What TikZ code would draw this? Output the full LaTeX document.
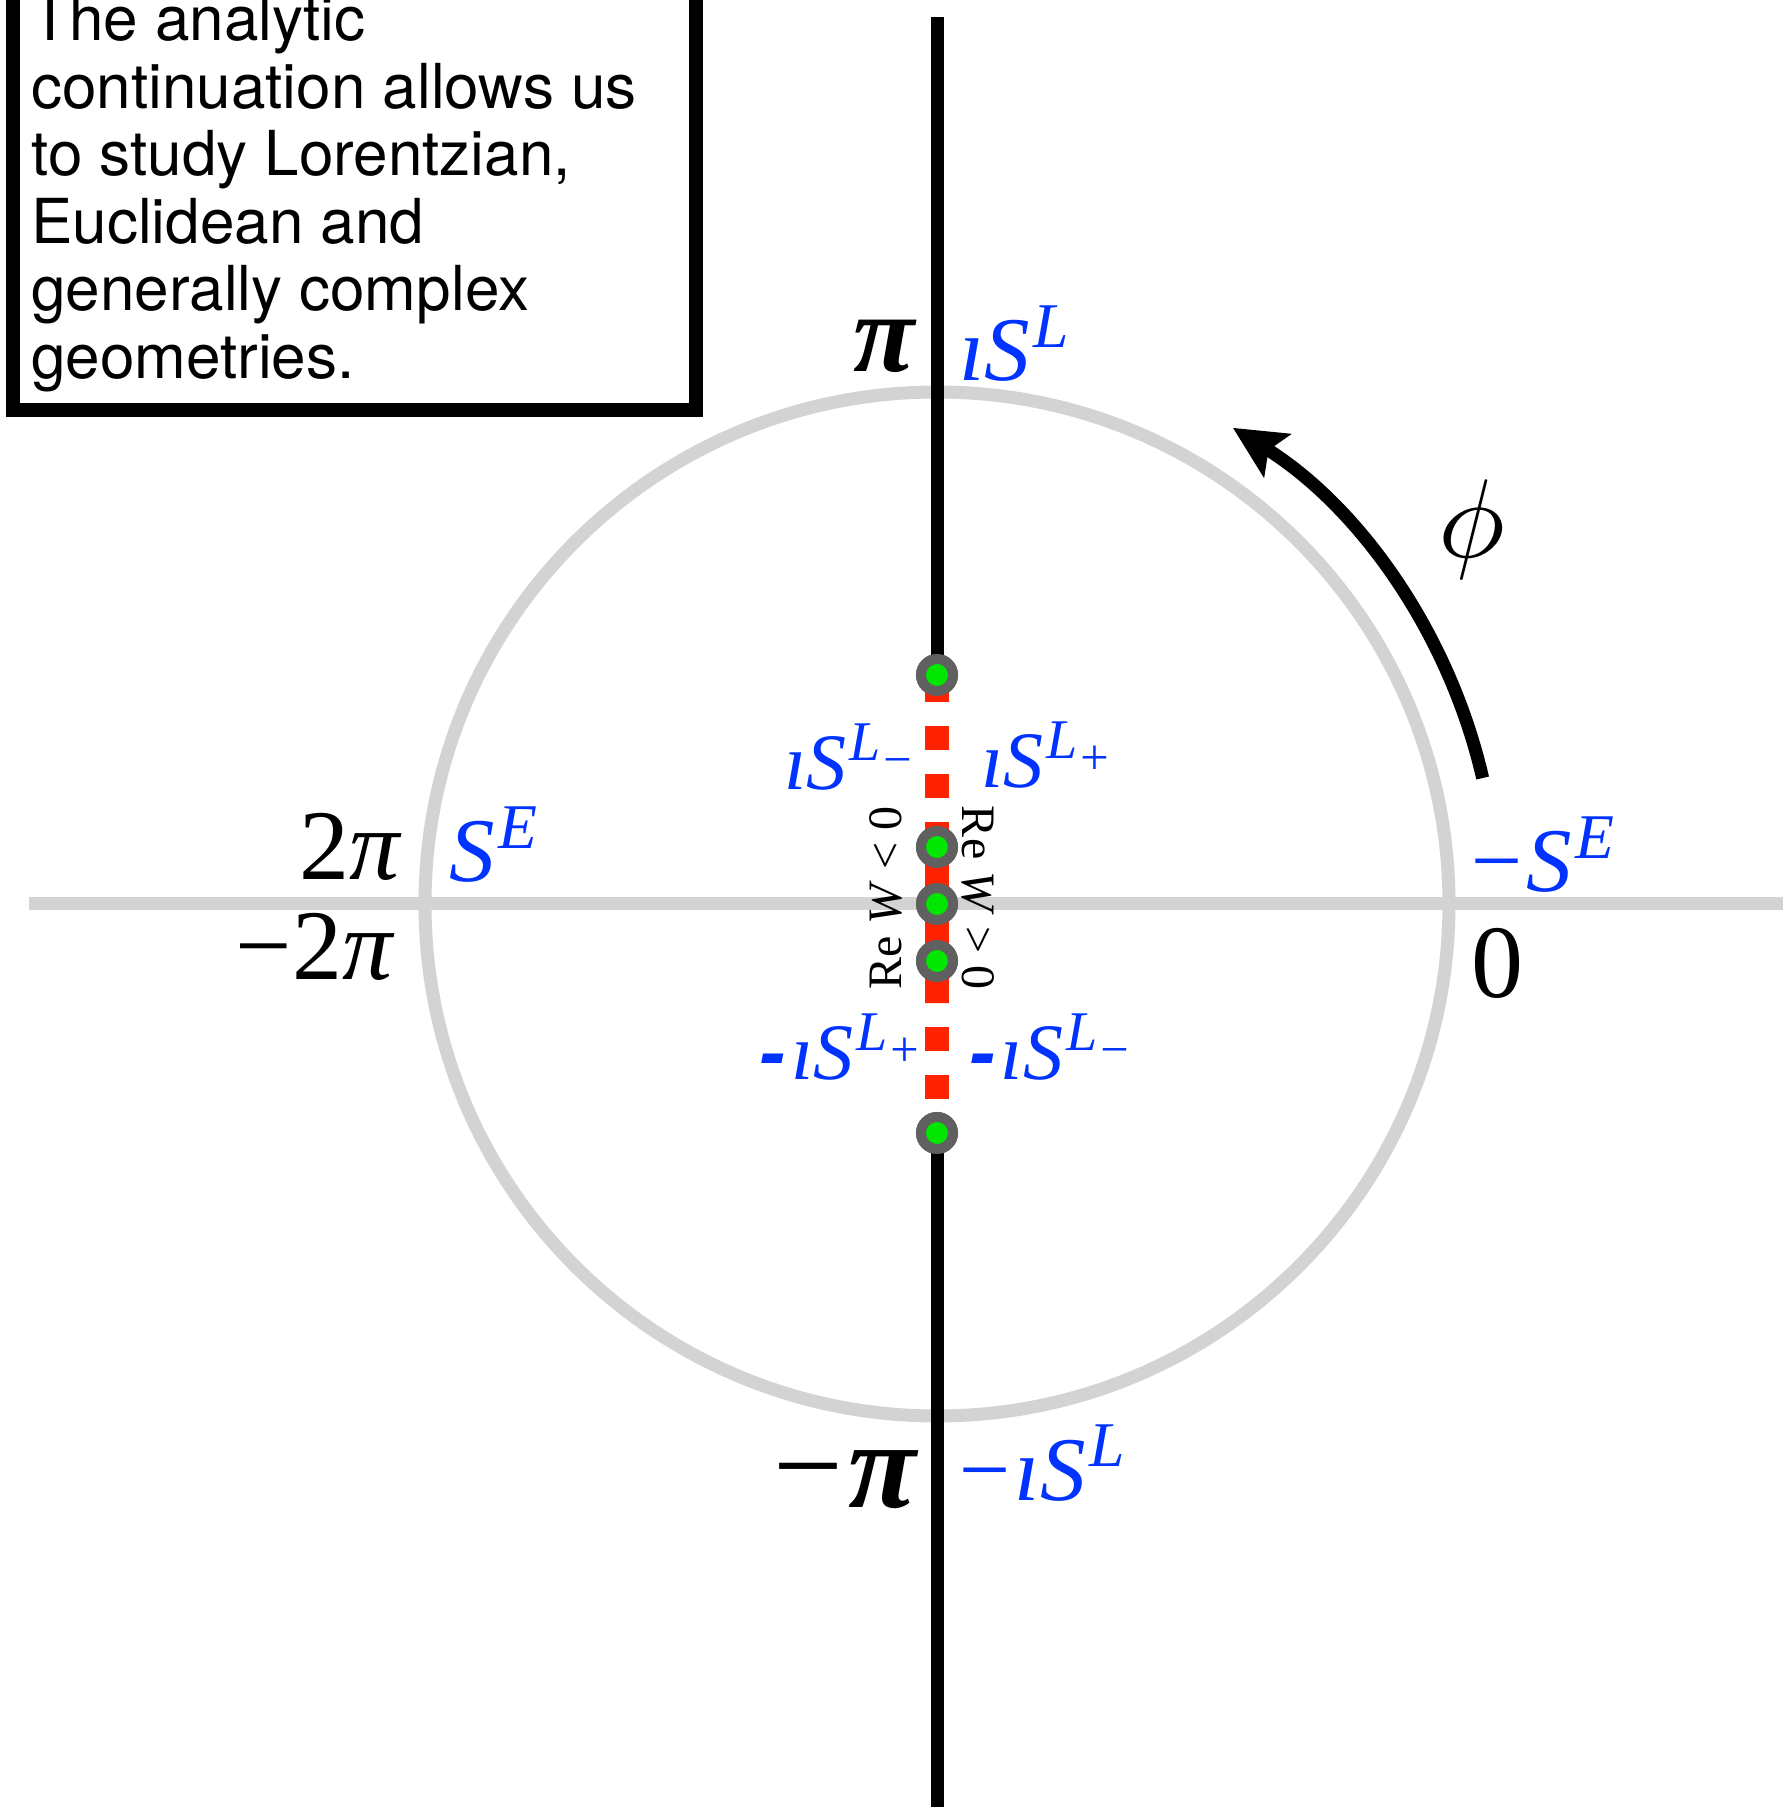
\documentclass[tikz,border=0pt]{standalone}
\usepackage{fontspec}
\usepackage{graphicx}
\newfontfamily\tms{Liberation Serif}
\newfontfamily\arl{Liberation Sans}
\newfontfamily\hvt{TeX Gyre Heros}
\usetikzlibrary{arrows.meta, positioning}

\definecolor{sblue}{RGB}{0,51,255}
\definecolor{cutred}{RGB}{255,34,0}
\definecolor{ptgreen}{RGB}{0,230,0}
\definecolor{ptgray}{RGB}{96,96,96}
\definecolor{axgray}{RGB}{211,211,211}

% superscript, subscript and bold dash used in the labels
\newcommand{\upx}[1]{\kern0.04em\raisebox{0.37em}{\scalebox{0.7}{#1}}}
\newcommand{\dnx}[1]{\raisebox{-0.28em}{\scalebox{0.9}{#1}}}
\newcommand{\dsh}{{\arl\bfseries -}\kern0.06em}

\tikzset{
    axisline/.style={line width=6.5pt, axgray},
    cutline/.style={line width=6.5pt, black},
    redcut/.style={line width=12pt, cutred},
    ptdot/.style={circle, fill=ptgreen, draw=ptgray, line width=5pt, minimum size=16pt, inner sep=0pt},
    blu/.style={text=sblue, inner sep=0pt, font=\tms\itshape\fontsize{#1}{#1}\selectfont},
    blk/.style={text=black, inner sep=0pt, font=\tms\itshape\fontsize{#1}{#1}\selectfont},
}

\begin{document}
\begin{tikzpicture}[x=0.5pt, y=0.5pt, >=Stealth]
    \useasboundingbox (-937,-903) rectangle (846,904);

    % Trục thực và vòng tròn
    \coordinate (xl) at (-908,0);
    \coordinate (xr) at (846,0);
    \draw[axisline] (xl) -- (xr);
    \draw[axisline] (0,0) circle (512);

    % Các điểm nhánh trên trục ảo
    \node[ptdot] (p2) at (0,229) {};
    \node[ptdot] (p1) at (0,57) {};
    \node[ptdot] (p0) at (0,0) {};
    \node[ptdot] (m1) at (0,-57) {};
    \node[ptdot] (m2) at (0,-229) {};

    % Trục ảo (đen) và đường cắt (đỏ)
    \coordinate (yt) at (0,887);
    \coordinate (yb) at (0,-903);
    \coordinate (cu) at (0,82);
    \coordinate (cd) at (0,-99);
    \draw[cutline] (yt) -- (p2.center);
    \draw[cutline] (m2.center) -- (yb);
    \draw[redcut, dash pattern=on 12pt off 12pt, dash phase=22.5pt] (p2.center) -- (cu);
    \draw[redcut] (cu) -- (cd);
    \draw[redcut, dash pattern=on 12pt off 12pt, dash phase=7pt] (m2.center) -- (cd);

    % vẽ lại các điểm lên trên
    \foreach \p in {p2,p1,p0,m1,m2}
        \node[ptdot] at (\p) {};

    % Nhãn góc (đen) và tác dụng (xanh)
    \node[blk=56pt, anchor=base east, font=\tms\bfseries\itshape\fontsize{56pt}{56pt}\selectfont] (pi) at (-22,532) {π};
    \node[blu=45.5pt, anchor=base west] (iSL) at (22,523) {ıS\upx{L}};
    \node[blk=50pt, anchor=base east, font=\tms\fontsize{50pt}{50pt}\selectfont] (twopi) at (-535,24) {2\textit{π}};
    \node[blu=45.5pt, anchor=base west] (SE) at (-488,22) {S\upx{E}};
    \node[blk=50pt, anchor=base east, font=\tms\fontsize{50pt}{50pt}\selectfont] (mtwopi) at (-542,-76) {−2\textit{π}};
    \node[blu=45.5pt, anchor=base west] (mSE) at (528,12) {−S\upx{E}};
    \node[blk=52pt, anchor=base west, font=\tms\fontsize{52pt}{52pt}\selectfont] (zero) at (534,-94) {0};
    \node[blk=62pt, anchor=base east, font=\tms\bfseries\itshape\fontsize{62pt}{62pt}\selectfont] (mpi) at (-20,-603) {{\mdseries −}π};
    \node[blu=45.5pt, anchor=base west] (miSL) at (16,-596) {−ıS\upx{L}};

    % Nhãn cạnh đường cắt
    \node[blu=40pt, anchor=base east] (iSLm) at (-22,114) {ıS\upx{L\dnx{−}}};
    \node[blu=40pt, anchor=base west] (iSLp) at (44,116) {ıS\upx{L\dnx{+}}};
    \node[blu=40pt, anchor=base east] (miSLp) at (-15,-176) {\dsh ıS\upx{L\dnx{+}}};
    \node[blu=40pt, anchor=base west] (miSLm) at (32,-176) {\dsh ıS\upx{L\dnx{−}}};
    \node[rotate=90, inner sep=0pt, font=\tms\fontsize{24pt}{24pt}\selectfont] (rwl) at (-51,6) {Re \textit{W} < 0};
    \node[rotate=-90, inner sep=0pt, font=\tms\fontsize{24pt}{24pt}\selectfont] (rwr) at (41,6) {Re \textit{W} > 0};

    % Mũi tên góc phi
    \draw[line width=6.5pt, -{Stealth[length=26pt, width=25pt, inset=5pt]}] (13:560) arc[start angle=13, end angle=58, radius=562];
    \node (phi) at (535,374) {\scalebox{5.6}{$\phi$}};

    % Hộp chú thích
    \draw[line width=7pt, fill=white] (-924,494) rectangle (-241,960);
    \node[anchor=north west, inner sep=0pt, align=left, font=\hvt\fontsize{31pt}{33.75pt}\selectfont] (note) at (-906,909)
        {The analytic\\continuation allows us\\to study Lorentzian,\\Euclidean and\\generally complex\\geometries.};
\end{tikzpicture}
\end{document}
